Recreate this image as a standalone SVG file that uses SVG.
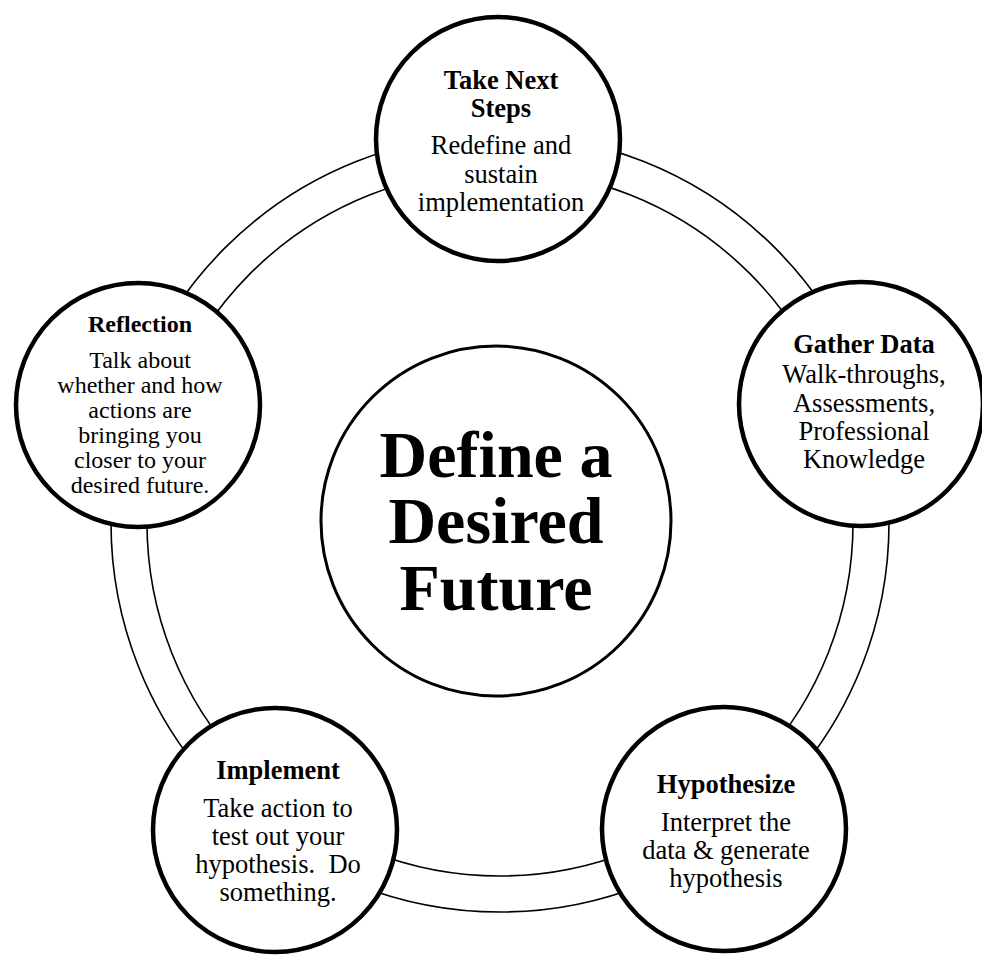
<svg xmlns="http://www.w3.org/2000/svg" width="982" height="956" viewBox="0 0 982 956">
<style>
.ring{fill:none;stroke:#000;stroke-width:1.6}
.node{fill:#fff;stroke:#000;stroke-width:4.5}
.core{fill:#fff;stroke:#000;stroke-width:3}
text{font-family:"Liberation Serif","Times New Roman",serif;fill:#000;text-anchor:middle}
.t{font-weight:bold;font-size:26.5px}
.b{font-size:26.5px}
.ts{font-weight:bold;font-size:24px}
.bs{font-size:24px}
.big{font-weight:bold;font-size:66px}
</style>
<rect width="982" height="956" fill="#fff"/>
<g id="connectors">
<circle class="ring" cx="500" cy="523" r="389"/>
<circle class="ring" cx="500" cy="523" r="353"/>
</g>
<g id="center">
<circle class="core" cx="496" cy="521" r="175"/>
<text class="big" x="496" y="477">Define a</text>
<text class="big" x="496" y="543">Desired</text>
<text class="big" x="496" y="610">Future</text>
</g>
<g id="take-next-steps">
<circle class="node" cx="498" cy="139" r="122"/>
<text class="t" x="501" y="89">Take Next</text>
<text class="t" x="501" y="117">Steps</text>
<text class="b" x="501" y="154">Redefine and</text>
<text class="b" x="501" y="183">sustain</text>
<text class="b" x="501" y="211">implementation</text>
</g>
<g id="gather-data">
<circle class="node" cx="861" cy="404" r="122"/>
<text class="t" x="864" y="353">Gather Data</text>
<text class="b" x="864" y="383">Walk-throughs,</text>
<text class="b" x="864" y="412">Assessments,</text>
<text class="b" x="864" y="440">Professional</text>
<text class="b" x="864" y="468">Knowledge</text>
</g>
<g id="hypothesize">
<circle class="node" cx="724" cy="829" r="122"/>
<text class="t" x="726" y="793">Hypothesize</text>
<text class="b" x="726" y="831">Interpret the</text>
<text class="b" x="726" y="859">data &amp; generate</text>
<text class="b" x="726" y="887">hypothesis</text>
</g>
<g id="implement">
<circle class="node" cx="275" cy="830" r="122"/>
<text class="t" x="278" y="779">Implement</text>
<text class="b" x="278" y="817">Take action to</text>
<text class="b" x="278" y="845">test out your</text>
<text class="b" x="278" y="873" style="white-space:pre">hypothesis.  Do</text>
<text class="b" x="278" y="901">something.</text>
</g>
<g id="reflection">
<circle class="node" cx="138" cy="405" r="122"/>
<text class="ts" x="140" y="332">Reflection</text>
<text class="bs" x="140" y="368">Talk about</text>
<text class="bs" x="140" y="393">whether and how</text>
<text class="bs" x="140" y="418">actions are</text>
<text class="bs" x="140" y="443">bringing you</text>
<text class="bs" x="140" y="468">closer to your</text>
<text class="bs" x="140" y="493">desired future.</text>
</g>
</svg>
